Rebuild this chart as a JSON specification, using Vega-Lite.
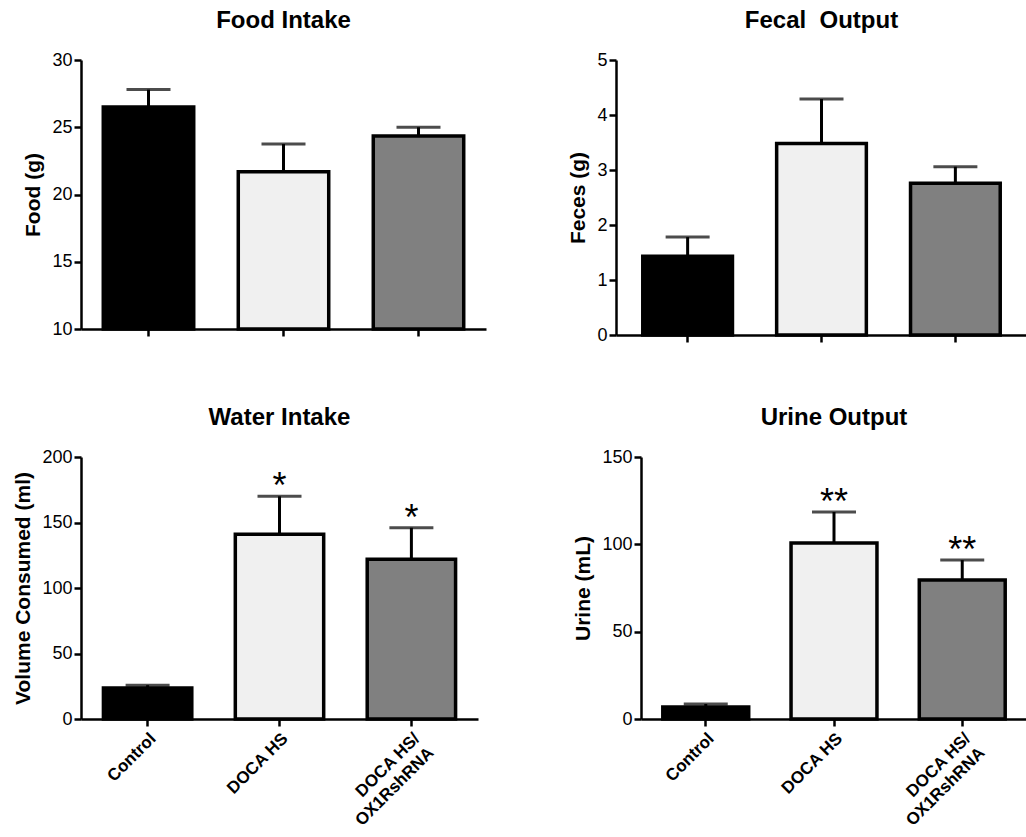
{
  "$schema": "https://vega.github.io/schema/vega-lite/v6.json",
  "background": "white",
  "padding": {"left": 12, "top": 9, "right": 0, "bottom": 0},
  "config": {
    "font": "Liberation Sans",
    "view": {"stroke": null},
    "axis": {
      "domainColor": "black", "domainWidth": 2.5, "tickColor": "black", "tickWidth": 2.5, "tickSize": 7,
      "labelColor": "black", "labelFontSize": 18, "labelFont": "Liberation Sans", "labelPadding": 2,
      "titleColor": "black", "titleFontSize": 21, "titleFontWeight": "bold", "titleFont": "Liberation Sans",
      "grid": false
    },
    "title": {"fontSize": 24, "fontWeight": "bold", "color": "black", "font": "Liberation Sans", "frame": "group", "offset": 18}
  },
  "data": {"values": [
    {"panel": "food", "group": "Control", "value": 26.5, "upper": 27.8, "star": ""},
    {"panel": "food", "group": "DOCA HS", "value": 21.7, "upper": 23.75, "star": ""},
    {"panel": "food", "group": "DOCA HS/ OX1RshRNA", "value": 24.35, "upper": 25.0, "star": ""},
    {"panel": "fecal", "group": "Control", "value": 1.43, "upper": 1.78, "star": ""},
    {"panel": "fecal", "group": "DOCA HS", "value": 3.48, "upper": 4.29, "star": ""},
    {"panel": "fecal", "group": "DOCA HS/ OX1RshRNA", "value": 2.76, "upper": 3.06, "star": ""},
    {"panel": "water", "group": "Control", "value": 23.7, "upper": 25.8, "star": ""},
    {"panel": "water", "group": "DOCA HS", "value": 141, "upper": 170, "star": "*"},
    {"panel": "water", "group": "DOCA HS/ OX1RshRNA", "value": 122, "upper": 146, "star": "*"},
    {"panel": "urine", "group": "Control", "value": 6.9, "upper": 8.6, "star": ""},
    {"panel": "urine", "group": "DOCA HS", "value": 100.7, "upper": 118.5, "star": "**"},
    {"panel": "urine", "group": "DOCA HS/ OX1RshRNA", "value": 79.6, "upper": 91, "star": "**"}
  ]},
  "spacing": 62,
  "vconcat": [
    {
      "spacing": 81,
      "hconcat": [
        {
          "title": "Food Intake",
          "width": 405, "height": 269,
          "transform": [{"filter": "datum.panel == 'food'"}],
          "encoding": {
            "x": {"field": "group", "type": "nominal", "sort": ["Control", "DOCA HS", "DOCA HS/ OX1RshRNA"],
                  "scale": {"paddingInner": 0.33, "paddingOuter": 0.165},
                  "axis": {"labels": false, "title": null}}
          },
          "layer": [
            {"mark": {"type": "bar", "stroke": "black", "strokeWidth": 3.5},
             "encoding": {
               "y": {"field": "value", "type": "quantitative", "scale": {"domain": [10, 30], "zero": false, "nice": false, "clamp": true},
                     "axis": {"title": "Food (g)", "values": [10, 15, 20, 25, 30], "titlePadding": 8}},
               "y2": {"datum": 10},
               "fill": {"field": "group", "type": "nominal", "scale": {"domain": ["Control", "DOCA HS", "DOCA HS/ OX1RshRNA"], "range": ["#000000", "#f0f0f0", "#808080"]}, "legend": null}
             }},
            {"mark": {"type": "rule", "color": "black", "strokeWidth": 3},
             "encoding": {"y": {"field": "value", "type": "quantitative"}, "y2": {"field": "upper"}}},
            {"mark": {"type": "tick", "color": "black", "thickness": 3, "size": 44},
             "encoding": {"y": {"field": "upper", "type": "quantitative"}}}
          ]
        },
        {
          "title": "Fecal\u00a0 Output",
          "width": 411, "height": 275,
          "transform": [{"filter": "datum.panel == 'fecal'"}],
          "encoding": {
            "x": {"field": "group", "type": "nominal", "sort": ["Control", "DOCA HS", "DOCA HS/ OX1RshRNA"],
                  "scale": {"paddingInner": 0.33, "paddingOuter": 0.2},
                  "axis": {"labels": false, "title": null}}
          },
          "layer": [
            {"mark": {"type": "bar", "stroke": "black", "strokeWidth": 3.5},
             "encoding": {
               "y": {"field": "value", "type": "quantitative", "scale": {"domain": [0, 5], "nice": false},
                     "axis": {"title": "Feces (g)", "values": [0, 1, 2, 3, 4, 5], "titlePadding": 8}},
               "fill": {"field": "group", "type": "nominal", "scale": {"domain": ["Control", "DOCA HS", "DOCA HS/ OX1RshRNA"], "range": ["#000000", "#f0f0f0", "#808080"]}, "legend": null}
             }},
            {"mark": {"type": "rule", "color": "black", "strokeWidth": 3},
             "encoding": {"y": {"field": "value", "type": "quantitative"}, "y2": {"field": "upper"}}},
            {"mark": {"type": "tick", "color": "black", "thickness": 3, "size": 44},
             "encoding": {"y": {"field": "upper", "type": "quantitative"}}}
          ]
        }
      ]
    },
    {
      "spacing": 94,
      "hconcat": [
        {
          "title": "Water Intake",
          "width": 397, "height": 262,
          "transform": [{"filter": "datum.panel == 'water'"}],
          "encoding": {
            "x": {"field": "group", "type": "nominal", "sort": ["Control", "DOCA HS", "DOCA HS/ OX1RshRNA"],
                  "scale": {"paddingInner": 0.33, "paddingOuter": 0.17},
                  "axis": {"title": null, "labelAngle": -45, "labelFontSize": 17, "labelFontWeight": "bold", "labelPadding": 4, "labelLineHeight": 20,
                           "labelExpr": "datum.value == 'DOCA HS/ OX1RshRNA' ? ['DOCA HS/', 'OX1RshRNA'] : datum.label"}}
          },
          "layer": [
            {"mark": {"type": "bar", "stroke": "black", "strokeWidth": 3.5},
             "encoding": {
               "y": {"field": "value", "type": "quantitative", "scale": {"domain": [0, 200], "nice": false},
                     "axis": {"title": "Volume Consumed (ml)", "values": [0, 50, 100, 150, 200], "titlePadding": 8}},
               "fill": {"field": "group", "type": "nominal", "scale": {"domain": ["Control", "DOCA HS", "DOCA HS/ OX1RshRNA"], "range": ["#000000", "#f0f0f0", "#808080"]}, "legend": null}
             }},
            {"mark": {"type": "rule", "color": "black", "strokeWidth": 3},
             "encoding": {"y": {"field": "value", "type": "quantitative"}, "y2": {"field": "upper"}}},
            {"mark": {"type": "tick", "color": "black", "thickness": 3, "size": 44},
             "encoding": {"y": {"field": "upper", "type": "quantitative"}}},
            {"mark": {"type": "text", "fontSize": 36, "baseline": "bottom", "dy": 10, "color": "black"},
             "encoding": {"y": {"field": "upper", "type": "quantitative"}, "text": {"field": "star"}}}
          ]
        },
        {
          "title": "Urine Output",
          "width": 386, "height": 262,
          "transform": [{"filter": "datum.panel == 'urine'"}],
          "encoding": {
            "x": {"field": "group", "type": "nominal", "sort": ["Control", "DOCA HS", "DOCA HS/ OX1RshRNA"],
                  "scale": {"paddingInner": 0.33, "paddingOuter": 0.17},
                  "axis": {"title": null, "labelAngle": -45, "labelFontSize": 17, "labelFontWeight": "bold", "labelPadding": 4, "labelLineHeight": 20,
                           "labelExpr": "datum.value == 'DOCA HS/ OX1RshRNA' ? ['DOCA HS/', 'OX1RshRNA'] : datum.label"}}
          },
          "layer": [
            {"mark": {"type": "bar", "stroke": "black", "strokeWidth": 3.5},
             "encoding": {
               "y": {"field": "value", "type": "quantitative", "scale": {"domain": [0, 150], "nice": false},
                     "axis": {"title": "Urine (mL)", "values": [0, 50, 100, 150], "titlePadding": 8}},
               "fill": {"field": "group", "type": "nominal", "scale": {"domain": ["Control", "DOCA HS", "DOCA HS/ OX1RshRNA"], "range": ["#000000", "#f0f0f0", "#808080"]}, "legend": null}
             }},
            {"mark": {"type": "rule", "color": "black", "strokeWidth": 3},
             "encoding": {"y": {"field": "value", "type": "quantitative"}, "y2": {"field": "upper"}}},
            {"mark": {"type": "tick", "color": "black", "thickness": 3, "size": 44},
             "encoding": {"y": {"field": "upper", "type": "quantitative"}}},
            {"mark": {"type": "text", "fontSize": 36, "baseline": "bottom", "dy": 10, "color": "black"},
             "encoding": {"y": {"field": "upper", "type": "quantitative"}, "text": {"field": "star"}}}
          ]
        }
      ]
    }
  ]
}
